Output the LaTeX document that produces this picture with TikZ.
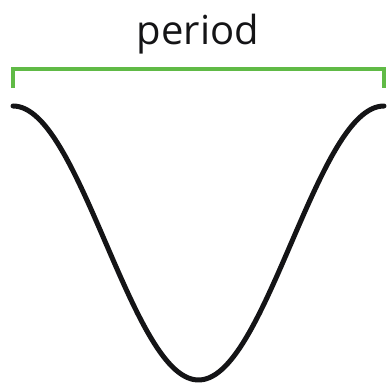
\documentclass[tikz,border=0pt]{standalone}
\usepackage{fontspec}
\setmainfont{Open Sans}
\usetikzlibrary{positioning}
\definecolor{brgreen}{RGB}{96,186,70}
\definecolor{curveblk}{RGB}{20,20,22}

\begin{document}
\begin{tikzpicture}[x=1pt, y=1pt,
  brace/.style={brgreen, line width=4pt},
  wave/.style={curveblk, line width=5pt, line cap=round}]
\useasboundingbox (0,0) rectangle (388,388);
\coordinate (bl) at (13,300);
\coordinate (br) at (384,300);
\node[anchor=base, font=\fontsize{40}{44}\selectfont, text=curveblk, inner sep=0pt] (lbl) at (198,343) {period};
\draw[brace] (bl) -- ++(0,19) -| (br);
\draw[wave, domain=0:360, samples=120, smooth] plot ({13+\x/360*371}, {145+137*cos(\x)});
\end{tikzpicture}
\end{document}
